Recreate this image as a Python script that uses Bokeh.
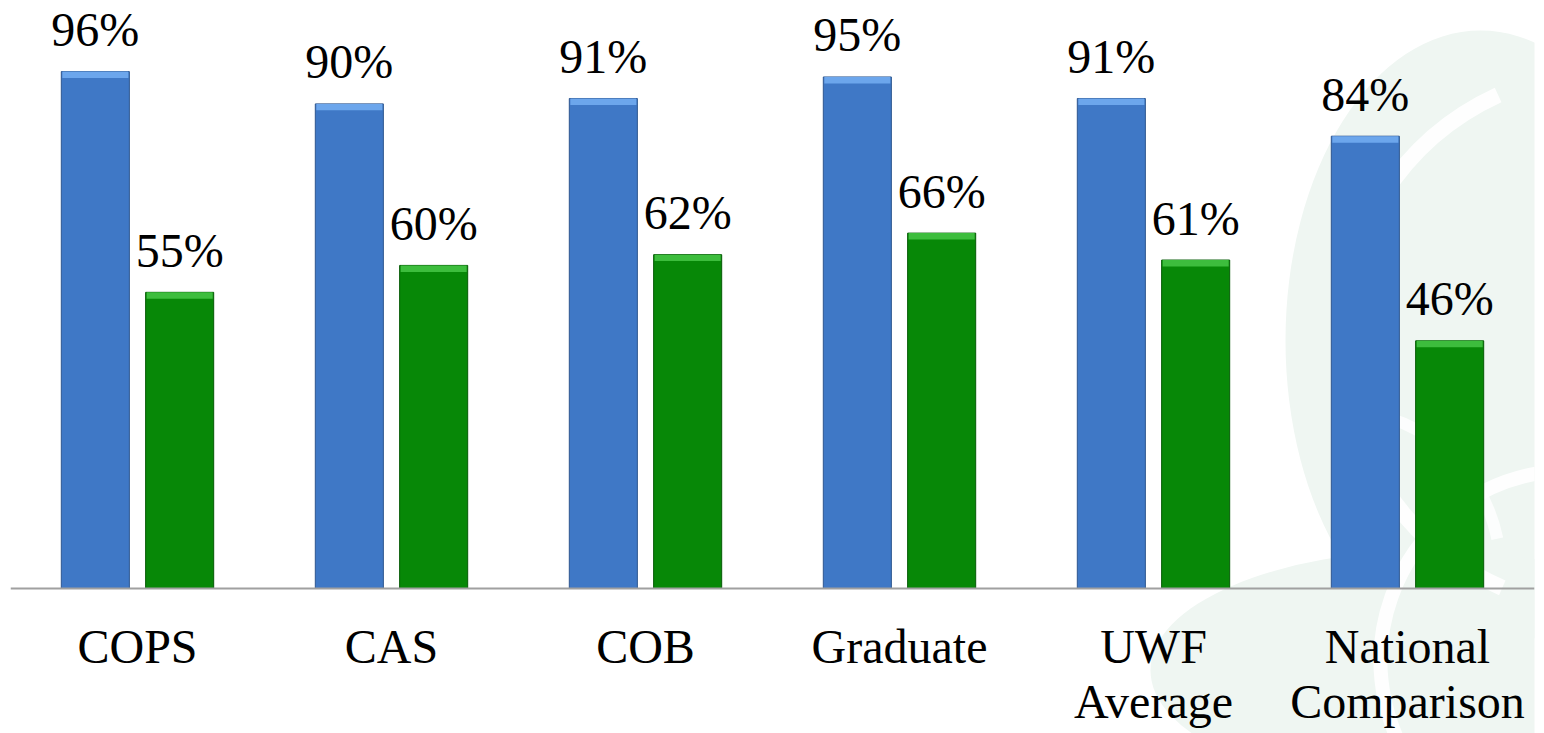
from bokeh.plotting import figure
from bokeh.models import FactorRange, ColumnDataSource, Span
from bokeh.transform import dodge
from bokeh.core.properties import value
from bokeh.embed import file_html
from bokeh.resources import INLINE

# ---- data ----
categories = ["COPS", "CAS", "COB", "Graduate", "UWF\nAverage", "National\nComparison"]
series_blue = [96, 90, 91, 95, 91, 84]
series_green = [55, 60, 62, 66, 61, 46]
blue_labels = [f"{v}%" for v in series_blue]
green_labels = [f"{v}%" for v in series_green]

FONT = "Liberation Serif"
PX_PER_UNIT = 5.385  # vertical pixels per percent

src = ColumnDataSource(dict(
    cat=categories,
    blue=series_blue,
    green=series_green,
    blue_lab=blue_labels,
    green_lab=green_labels,
    blue_bev=[v - 1.2 for v in series_blue],
    green_bev=[v - 1.2 for v in series_green],
    zero=[0] * len(categories),
))

W, H = 1544, 733
p = figure(
    width=W, height=H,
    x_range=FactorRange(*categories, range_padding=0),
    y_range=(-26.93, 109.2),
    output_backend="svg", toolbar_location=None,
    x_axis_location=None, y_axis_location=None,
    min_border_left=10, min_border_right=10, min_border_top=0, min_border_bottom=0,
)
p.outline_line_color = None
p.grid.visible = False
p.background_fill_color = "white"
p.border_fill_color = "white"

# ---- faint decorative swirl at the right (background) ----
def px2x(px):
    return (px - 10) / 254.0

def py2y(py):
    return (588 - py) / PX_PER_UNIT

deco_fill = "#EFF6F2"
p.ellipse(x=[px2x(1480)], y=[py2y(340)], width=[390], height=[620],
          width_units="screen", height_units="screen",
          fill_color=deco_fill, line_color=None)
p.ellipse(x=[px2x(1430)], y=[py2y(670)], width=[560], height=[240],
          width_units="screen", height_units="screen",
          fill_color=deco_fill, line_color=None)
p.arc(x=[px2x(1610)], y=[py2y(340)], radius=[270], radius_units="screen",
      start_angle=[2.0], end_angle=[4.3], line_color="white", line_width=16, line_alpha=0.9)
p.arc(x=[px2x(1570)], y=[py2y(660)], radius=[190], radius_units="screen",
      start_angle=[1.7], end_angle=[3.9], line_color="white", line_width=14, line_alpha=0.9)
p.arc(x=[px2x(1340)], y=[py2y(570)], radius=[160], radius_units="screen",
      start_angle=[0.2], end_angle=[1.6], line_color="white", line_width=12, line_alpha=0.8)

# ---- bars ----
OFF = 0.166
BW = 0.268
xb = dodge("cat", -OFF, range=p.x_range)
xg = dodge("cat", OFF, range=p.x_range)

p.vbar(x=xb, top="blue", bottom="zero", width=BW, source=src,
       fill_color="#3F78C6", line_color="#2D568F", line_width=1)
p.vbar(x=xg, top="green", bottom="zero", width=BW, source=src,
       fill_color="#078807", line_color="#055A05", line_width=1)
# top bevel highlight
p.vbar(x=xb, top="blue", bottom="blue_bev", width=BW * 0.97, source=src,
       fill_color="#6CA6EC", line_color=None)
p.vbar(x=xg, top="green", bottom="green_bev", width=BW * 0.97, source=src,
       fill_color="#3DBD3D", line_color=None)

# baseline
p.add_layout(Span(location=0, dimension="width", line_color="#A0A0A0", line_width=2))

# ---- value labels ----
p.text(x=xb, y="blue", text="blue_lab", source=src,
       text_font=value(FONT), text_font_size="48px", text_color="black",
       text_align="center", text_baseline="alphabetic", y_offset=-42)
p.text(x=xg, y="green", text="green_lab", source=src,
       text_font=value(FONT), text_font_size="48px", text_color="black",
       text_align="center", text_baseline="alphabetic", y_offset=-42)

# ---- category labels ----
p.text(x="cat", y="zero", text="cat", source=src,
       text_font=value(FONT), text_font_size="48px", text_color="black",
       text_align="center", text_baseline="top", y_offset=32,
       text_line_height=1.02)

open("out.html", "w").write(file_html(p, INLINE))
